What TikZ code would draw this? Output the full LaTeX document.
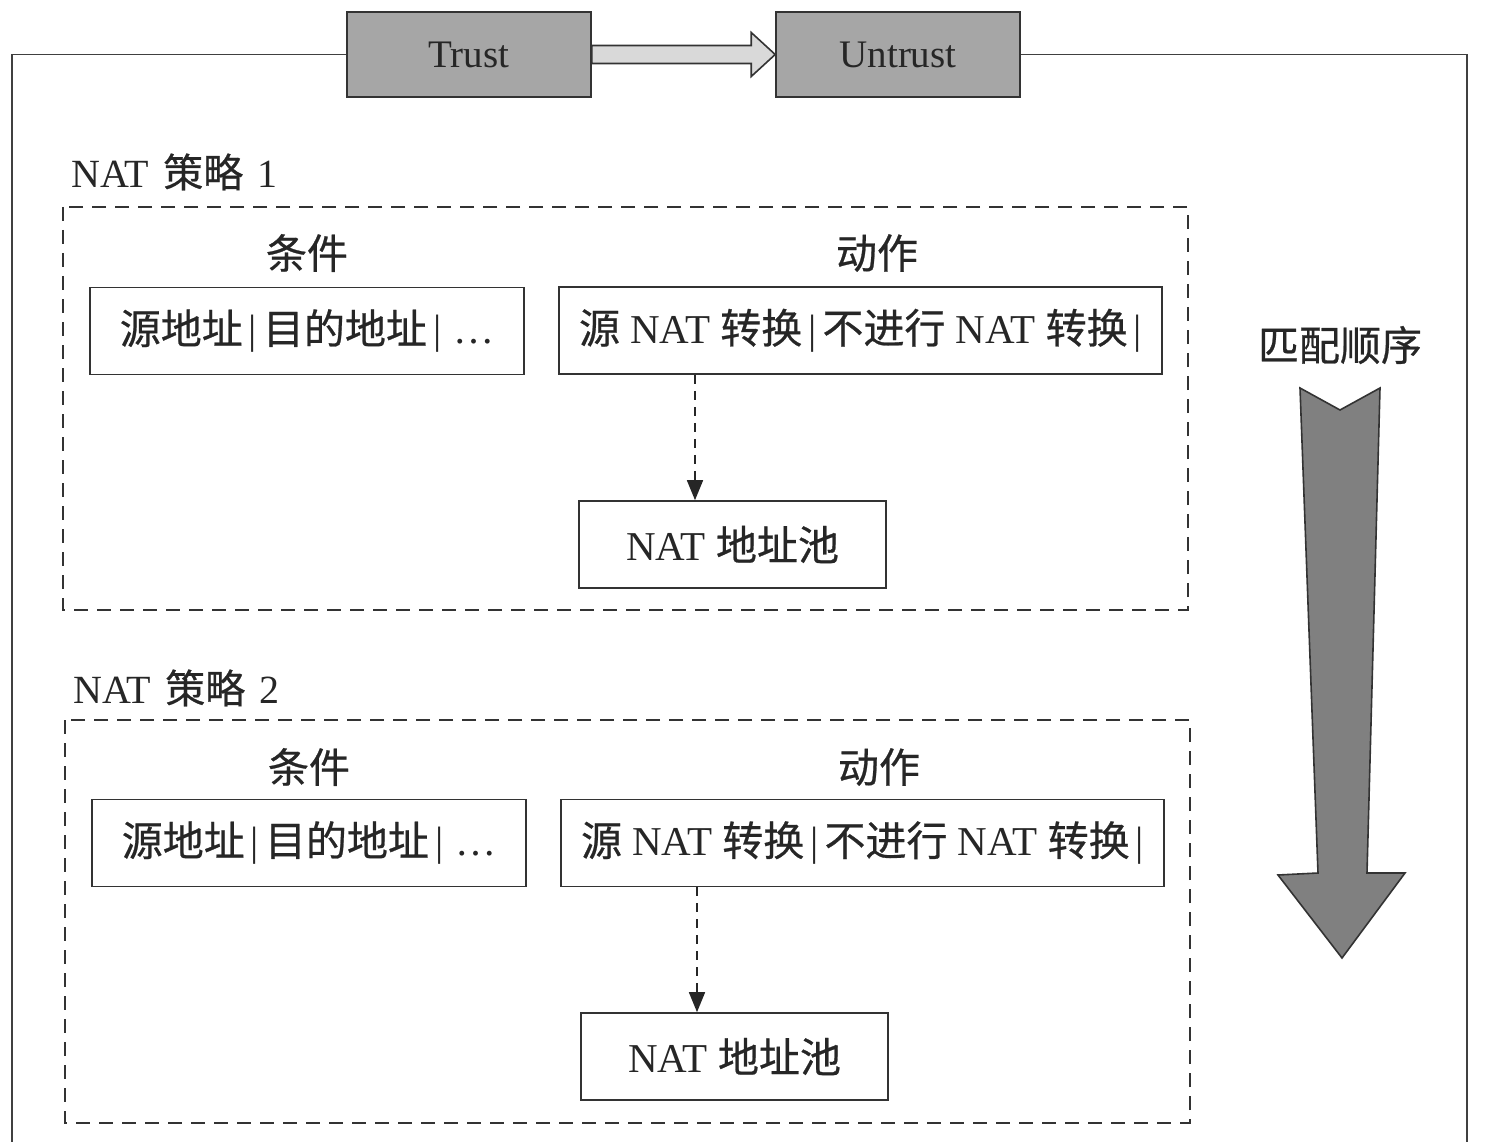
\documentclass[tikz,border=0pt]{standalone}
\usepackage{fontspec}
\setmainfont{Liberation Serif}
\newfontfamily\cjk{Noto Sans CJK SC}[FakeBold=0.6]
\newcommand{\zh}[1]{{\cjk #1}}
\newcommand{\vsep}{\hspace{6pt}|\hspace{6pt}}
\usetikzlibrary{arrows.meta}
\tikzset{
  zone/.style={draw=black!80, fill=black!35, line width=1.6pt, minimum width=244pt, minimum height=85pt, font=\fontsize{39}{39}\selectfont},
  rulebox/.style={draw=black!80, line width=1.6pt, minimum height=87pt, inner sep=0pt, font=\fontsize{41}{41}\selectfont},
  policy/.style={draw=black!80, line width=1.6pt, dash pattern=on 14pt off 9pt},
  caption/.style={font=\fontsize{41}{41}\selectfont},
  flow/.style={draw=black!85, line width=1.6pt, dash pattern=on 9pt off 7pt, -{Triangle[length=20pt,width=16pt]}}
}
\begin{document}
\begin{tikzpicture}[x=1pt,y=-1pt,text=black!85]
\useasboundingbox (0,0) rectangle (1500,1142);
% zones on top
\node [zone] (trust) at (469,54.5) {Trust};
\node [zone] (untrust) at (898,54.5) {Untrust};
\draw [line width=1.6pt, draw=black!75] (trust.west) -- (12,54.5) -- (12,1170) -- (1467,1170) -- (1467,54.5) -- (untrust.east);
\draw [line width=1.6pt, draw=black!80, fill=black!15]
  ([yshift=9pt]trust.east) -- ([xshift=-24pt,yshift=9pt]untrust.west)
  -- ([xshift=-24pt,yshift=22pt]untrust.west) -- (untrust.west)
  -- ([xshift=-24pt,yshift=-22pt]untrust.west) -- ([xshift=-24pt,yshift=-9pt]untrust.west)
  -- ([yshift=-9pt]trust.east) -- cycle;
% policy 1
\node [caption, anchor=west, font=\fontsize{40}{40}\selectfont] (title1) at (68,172) {NAT\hspace{4pt} \zh{策略}\hspace{4pt} 1};
\draw [policy] (63,207) rectangle (1188,610);
\node [caption] (cond1) at (307,253) {\zh{条件}};
\node [caption] (act1) at (877,253) {\zh{动作}};
\node [rulebox, minimum width=434pt] (match1) at (307,331) {\zh{源地址}\vsep\zh{目的地址}\vsep\hspace{6pt}\ldots};
\node [rulebox, minimum width=603pt] (do1) at (860.5,330.5) {\zh{源} NAT \zh{转换}\vsep\zh{不进行} NAT \zh{转换}\vsep};
\node [rulebox, minimum width=307pt] (pool1) at (732.5,544.5) {NAT \zh{地址池}};
\draw [flow] ([xshift=-165.5pt]do1.south) -- ([xshift=-37.5pt]pool1.north);
% policy 2
\node [caption, anchor=west, font=\fontsize{40}{40}\selectfont] (title2) at (70,688) {NAT\hspace{4pt} \zh{策略}\hspace{4pt} 2};
\draw [policy] (65,720) rectangle (1190,1123);
\node [caption] (cond2) at (309,767) {\zh{条件}};
\node [caption] (act2) at (879,767) {\zh{动作}};
\node [rulebox, minimum width=434pt] (match2) at (309,843) {\zh{源地址}\vsep\zh{目的地址}\vsep\hspace{6pt}\ldots};
\node [rulebox, minimum width=603pt] (do2) at (862.5,843) {\zh{源} NAT \zh{转换}\vsep\zh{不进行} NAT \zh{转换}\vsep};
\node [rulebox, minimum width=307pt] (pool2) at (734.5,1056.5) {NAT \zh{地址池}};
\draw [flow] ([xshift=-165.5pt]do2.south) -- ([xshift=-37.5pt]pool2.north);
% match order
\node [caption] (order) at (1340,345) {\zh{匹配顺序}};
\draw [line width=1.6pt, draw=black!80, fill=black!50]
  (1300,388) -- (1340,410) -- (1380,388) -- (1367,873) -- (1405,873)
  -- (1342,958) -- (1278,875) -- (1318,873) -- cycle;
\end{tikzpicture}
\end{document}
